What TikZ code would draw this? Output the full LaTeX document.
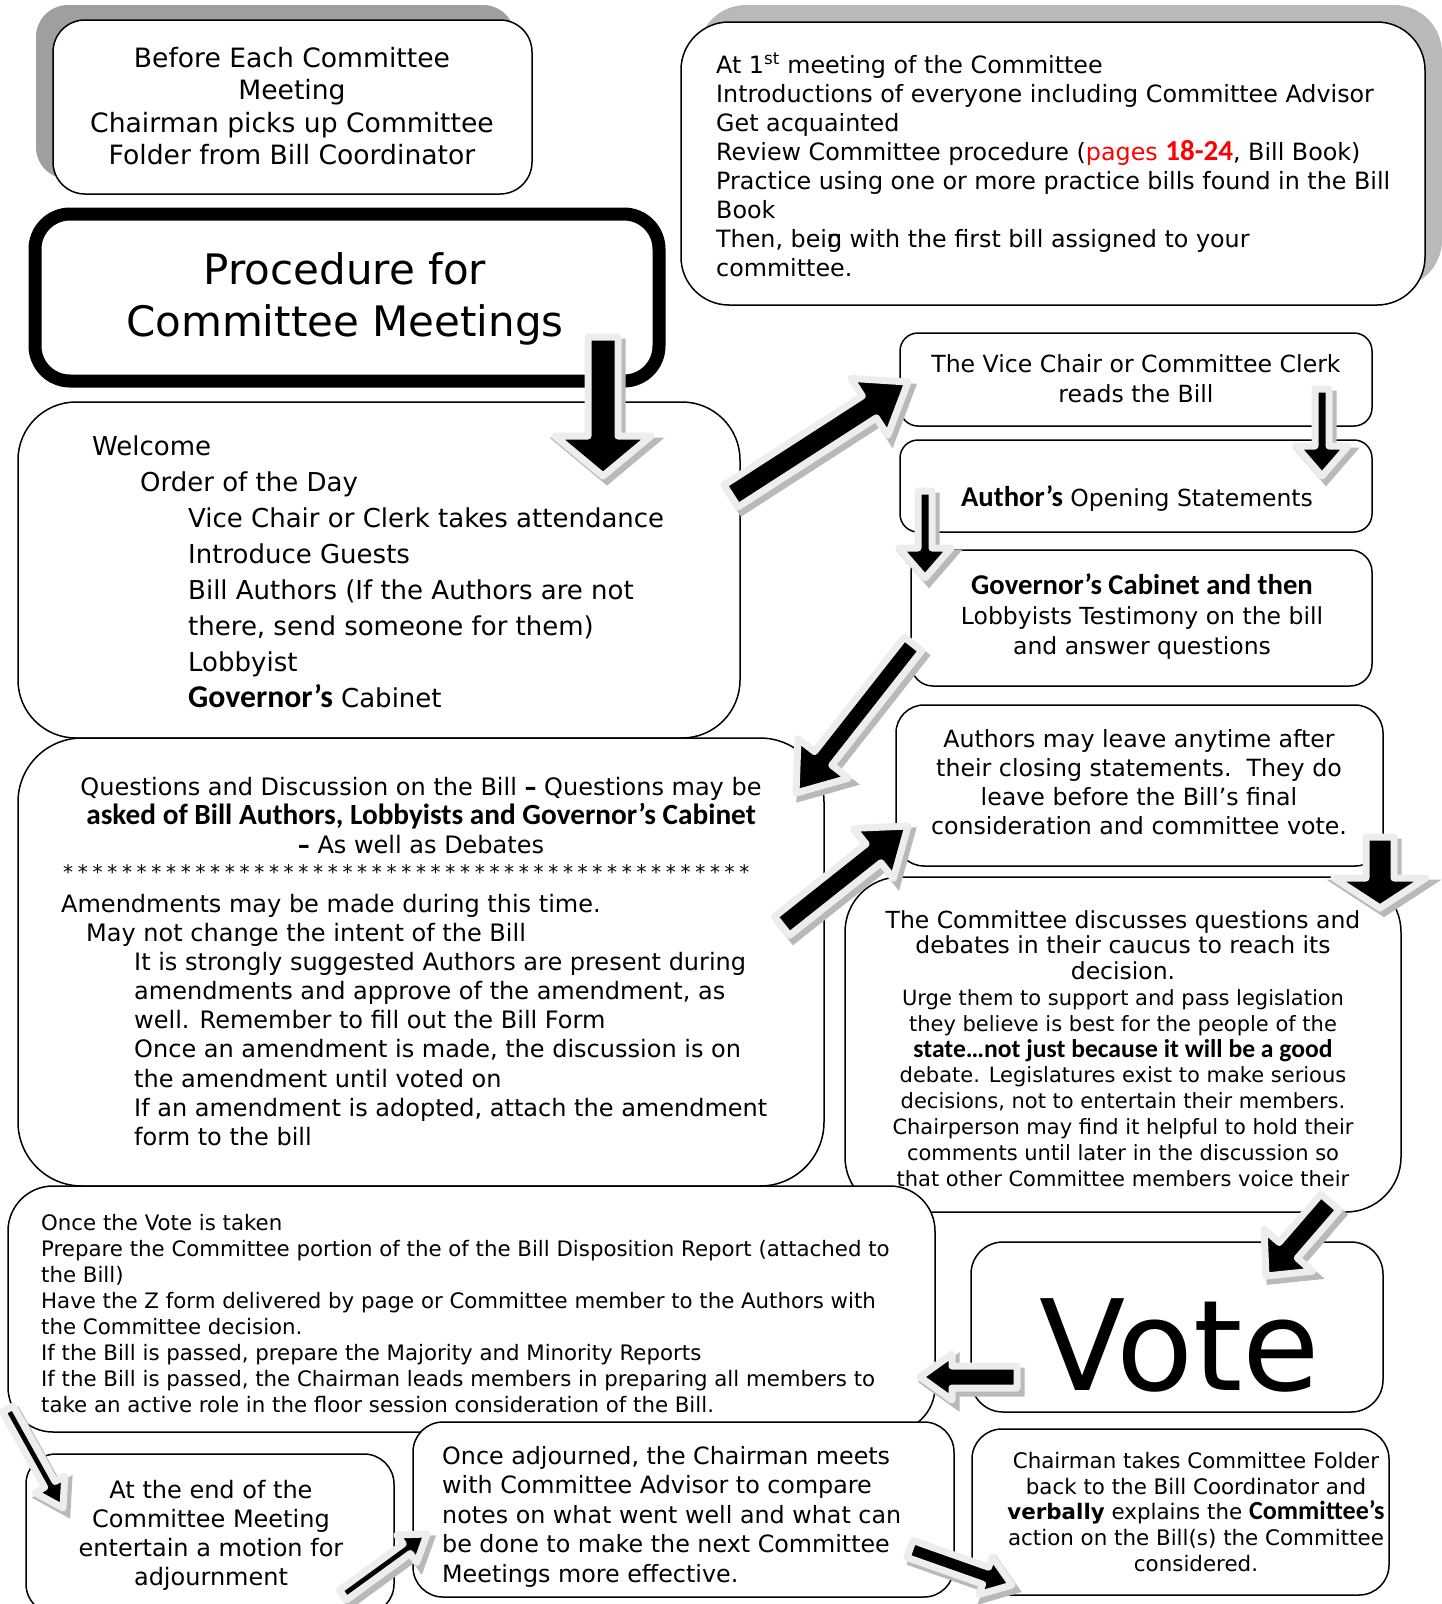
\documentclass[tikz,border=0pt]{standalone}
\usepackage{fontspec}
\setmainfont{DejaVu Sans}
\newfontfamily\carlito{Carlito}[Scale=1.22]
\usetikzlibrary{calc, shadows}

\newcommand{\boldpart}[1]{{\carlito\bfseries #1}}
\newcommand{\discbig}{\fontsize{23.5}{25.8}\selectfont}

% block arrow: tail, tip, half shaft, half head, head length
\newcommand{\blockarrow}[5]{%
    \coordinate (headbase) at ($(#2)!#5!(#1)$);
    \filldraw[blockarrow] ($(#1)!#3!90:(#2)$) -- ($(headbase)!#3!90:(#2)$) -- ($(headbase)!#4!90:(#2)$) -- (#2)
        -- ($(headbase)!#4!-90:(#2)$) -- ($(headbase)!#3!-90:(#2)$) -- ($(#1)!#3!-90:(#2)$) -- cycle;
}

\tikzset{
    panel/.style={rectangle, draw=black, line width=1.5pt, fill=white, inner sep=0pt},
    shadowleft/.style={drop shadow={shadow xshift=-17pt, shadow yshift=15pt, fill=gray!75, opacity=1}},
    shadowright/.style={drop shadow={shadow xshift=17pt, shadow yshift=17pt, fill=gray!55, opacity=1}},
    txt/.style={inner sep=0pt, align=left, text=black},
    ctxt/.style={inner sep=0pt, align=center, text=black},
    blockarrow/.style={fill=black, draw=gray!14, line width=7pt, line join=round,
        drop shadow={shadow xshift=4pt, shadow yshift=-5pt, fill=gray!55, draw=gray!55, line width=7pt, opacity=1}}
}

\begin{document}
\begin{tikzpicture}[x=1pt, y=-1pt]
    \useasboundingbox (0,0) rectangle (1442,1604);

    % --- Top row ---
    \node (before) [panel, shadowleft, rounded corners=32pt, minimum width=479pt, minimum height=174pt] at (292.5,107) {};
    \node (beforetxt) [ctxt, anchor=north, font=\fontsize{26.6}{32.5}\selectfont] at (292,47)
        {Before Each Committee\\ Meeting\\ Chairman picks up Committee\\ Folder from Bill Coordinator};

    \node (title) [panel, line width=13pt, rounded corners=35pt, minimum width=624pt, minimum height=167pt] at (347,297.5) {};
    \node (titletxt) [ctxt, anchor=north, font=\fontsize{42}{52}\selectfont] at (345,252)
        {Procedure for\\ Committee Meetings};

    \node (firstmeet) [panel, shadowright, rounded corners=48pt, minimum width=744pt, minimum height=283pt] at (1053,163.5) {};
    \node (firstmeettxt) [txt, anchor=north west, font=\fontsize{23.8}{29}\selectfont] at (716,53)
        {At 1\textsuperscript{st} meeting of the Committee\\
         Introductions of everyone including Committee Advisor\\
         Get acquainted\\
         Review Committee procedure ({\color{red}pages \boldpart{18-24}}, Bill Book)\\
         Practice using one or more practice bills found in the Bill\\
         Book\\
         Then, bei\rlap{n}g with the first bill assigned to your\\
         committee.};

    % --- Left column ---
    \node (welcome) [panel, rounded corners=58pt, minimum width=722pt, minimum height=336pt] at (379,570) {};
    \node (welcometxt) [txt, anchor=north west, font=\fontsize{26}{36}\selectfont] at (92,436)
        {Welcome\\
         \hspace*{48pt}Order of the Day\\
         \hspace*{96pt}Vice Chair or Clerk takes attendance\\
         \hspace*{96pt}Introduce Guests\\
         \hspace*{96pt}Bill Authors (If the Authors are not\\
         \hspace*{96pt}there, send someone for them)\\
         \hspace*{96pt}Lobbyist\\
         \hspace*{96pt}\boldpart{Governor’s} Cabinet};

    \node (questions) [panel, rounded corners=64pt, minimum width=806pt, minimum height=448pt] at (421,962) {};
    \node (questhead) [ctxt, anchor=north, font=\fontsize{24}{29}\selectfont] at (421,777)
        {Questions and Discussion on the Bill \textbf{–} Questions may be\\
         \boldpart{asked of Bill Authors, Lobbyists and Governor’s Cabinet}\\
         \textbf{–} As well as Debates};
    \node (stars) [txt, anchor=west, font=\fontsize{20}{24}\selectfont] at (63,872)
        {\foreach \n in {1,...,47}{*\hspace{4.7pt}}};
    \node (questbody) [txt, anchor=north west, font=\fontsize{24}{29.1}\selectfont] at (61,894)
        {Amendments may be made during this time.\\
         \hspace*{25pt}May not change the intent of the Bill\\
         \hspace*{73pt}It is strongly suggested Authors are present during\\
         \hspace*{73pt}amendments and approve of the amendment, as\\
         \hspace*{73pt}well. Remember to fill out the Bill Form\\
         \hspace*{73pt}Once an amendment is made, the discussion is on\\
         \hspace*{73pt}the amendment until voted on\\
         \hspace*{73pt}If an amendment is adopted, attach the amendment\\
         \hspace*{73pt}form to the bill};

    % --- Right column ---
    \node (vicechair) [panel, rounded corners=18pt, minimum width=472pt, minimum height=93pt] at (1136,379.5) {};
    \node (vicechairtxt) [ctxt, anchor=north, font=\fontsize{23.6}{30}\selectfont] at (1136,354.5)
        {The Vice Chair or Committee Clerk\\ reads the Bill};

    \node (opening) [panel, rounded corners=18pt, minimum width=472pt, minimum height=92pt] at (1136,486) {};
    \node (openingtxt) [ctxt, anchor=north, font=\fontsize{23.5}{30}\selectfont] at (1137,485)
        {\boldpart{Author’s} Opening Statements};

    \node (cabinet) [panel, rounded corners=22pt, minimum width=461pt, minimum height=136pt] at (1141.5,618) {};
    \node (cabinettxt) [ctxt, anchor=north, font=\fontsize{23.5}{30}\selectfont] at (1142,573)
        {\boldpart{Governor’s Cabinet and then}\\ Lobbyists Testimony on the bill\\ and answer questions};

    \node (leave) [panel, rounded corners=28pt, minimum width=487pt, minimum height=161pt] at (1139.5,785.5) {};
    \node (leavetxt) [ctxt, anchor=north, font=\fontsize{23.7}{29}\selectfont] at (1139,729.5)
        {Authors may leave anytime after\\ their closing statements.~~They do\\ leave before the Bill's final\\ consideration and committee vote.};

    \node (discuss) [panel, rounded corners=55pt, minimum width=556pt, minimum height=335pt] at (1123,1044.5) {};
    \node (discusstxt) [ctxt, anchor=north, font=\fontsize{21}{25.8}\selectfont] at (1123,910)
        {{\discbig The Committee discusses questions and}\\
         {\discbig debates in their caucus to reach its}\\
         {\discbig decision.}\\
         Urge them to support and pass legislation\\
         they believe is best for the people of the\\
         \boldpart{state…not just because it will be a good}\\
         debate. Legislatures exist to make serious\\
         decisions, not to entertain their members.\\
         Chairperson may find it helpful to hold their\\
         comments until later in the discussion so\\
         that other Committee members voice their};

    % --- Bottom part ---
    \node (aftervote) [panel, rounded corners=45pt, minimum width=927pt, minimum height=246pt] at (471.5,1309) {};
    \node (aftervotetxt) [txt, anchor=north west, font=\fontsize{21.3}{26}\selectfont] at (41,1214)
        {Once the Vote is taken\\
         Prepare the Committee portion of the of the Bill Disposition Report (attached to\\
         the Bill)\\
         Have the Z form delivered by page or Committee member to the Authors with\\
         the Committee decision.\\
         If the Bill is passed, prepare the Majority and Minority Reports\\
         If the Bill is passed, the Chairman leads members in preparing all members to\\
         take an active role in the floor session consideration of the Bill.};

    \node (vote) [panel, rounded corners=32pt, minimum width=412pt, minimum height=170pt] at (1177,1327) {};
    \node (votetxt) [ctxt, font=\fontsize{126}{130}\selectfont] at (1180,1345) {Vote};

    \node (adjourn) [panel, rounded corners=30pt, minimum width=368pt, minimum height=160pt] at (210,1534) {};
    \node (adjourntxt) [ctxt, anchor=north, font=\fontsize{24}{29}\selectfont] at (211,1480)
        {At the end of the\\ Committee Meeting\\ entertain a motion for\\ adjournment};

    \node (debrief) [panel, rounded corners=30pt, minimum width=541pt, minimum height=175pt] at (683.5,1509.5) {};
    \node (debrieftxt) [txt, anchor=north west, font=\fontsize{23.8}{29.5}\selectfont] at (442,1446)
        {Once adjourned, the Chairman meets\\
         with Committee Advisor to compare\\
         notes on what went well and what can\\
         be done to make the next Committee\\
         Meetings more effective.};

    \node (folder) [panel, rounded corners=30pt, minimum width=417pt, minimum height=166pt] at (1180.5,1512) {};
    \node (foldertxt) [ctxt, anchor=north, font=\fontsize{21.4}{25.7}\selectfont] at (1196,1452)
        {Chairman takes Committee Folder\\
         back to the Bill Coordinator and\\
         \textbf{verbally} explains the \boldpart{Committee’s}\\
         action on the Bill(s) the Committee\\
         considered.};

    % --- Arrow ends ---
    \coordinate (a1s) at (603,337);   \coordinate (a1e) at (603,476);
    \coordinate (a2s) at (731,496);   \coordinate (a2e) at (908,382);
    \coordinate (a3s) at (1322,389);  \coordinate (a3e) at (1322,476);
    \coordinate (a4s) at (925,491);   \coordinate (a4e) at (925,578);
    \coordinate (a5s) at (913,644);   \coordinate (a5e) at (796,793);
    \coordinate (a6s) at (782,926);   \coordinate (a6e) at (908,826);
    \coordinate (a7s) at (1380,837);  \coordinate (a7e) at (1380,908);
    \coordinate (a8s) at (1330,1202); \coordinate (a8e) at (1266,1276);
    \coordinate (a9s) at (1017,1377); \coordinate (a9e) at (920,1377);
    \coordinate (a10s) at (8,1409);   \coordinate (a10e) at (63,1508);
    \coordinate (a11s) at (343,1595); \coordinate (a11e) at (427,1534);
    \coordinate (a12s) at (910,1549); \coordinate (a12e) at (1012,1585);

    % --- Block arrows ---
    \blockarrow{a1s}{a1e}{15pt}{48pt}{40pt}
    \blockarrow{a2s}{a2e}{13pt}{34pt}{46pt}
    \blockarrow{a3s}{a3e}{7pt}{26pt}{30pt}
    \blockarrow{a4s}{a4e}{7pt}{26pt}{30pt}
    \blockarrow{a5s}{a5e}{11pt}{32pt}{44pt}
    \blockarrow{a6s}{a6e}{12pt}{32pt}{44pt}
    \blockarrow{a7s}{a7e}{14pt}{46pt}{30pt}
    \blockarrow{a8s}{a8e}{12pt}{32pt}{34pt}
    \blockarrow{a9s}{a9e}{11pt}{23pt}{32pt}
    \blockarrow{a10s}{a10e}{6pt}{17pt}{27pt}
    \blockarrow{a11s}{a11e}{6pt}{17pt}{25pt}
    \blockarrow{a12s}{a12e}{9pt}{20pt}{28pt}
\end{tikzpicture}
\end{document}
